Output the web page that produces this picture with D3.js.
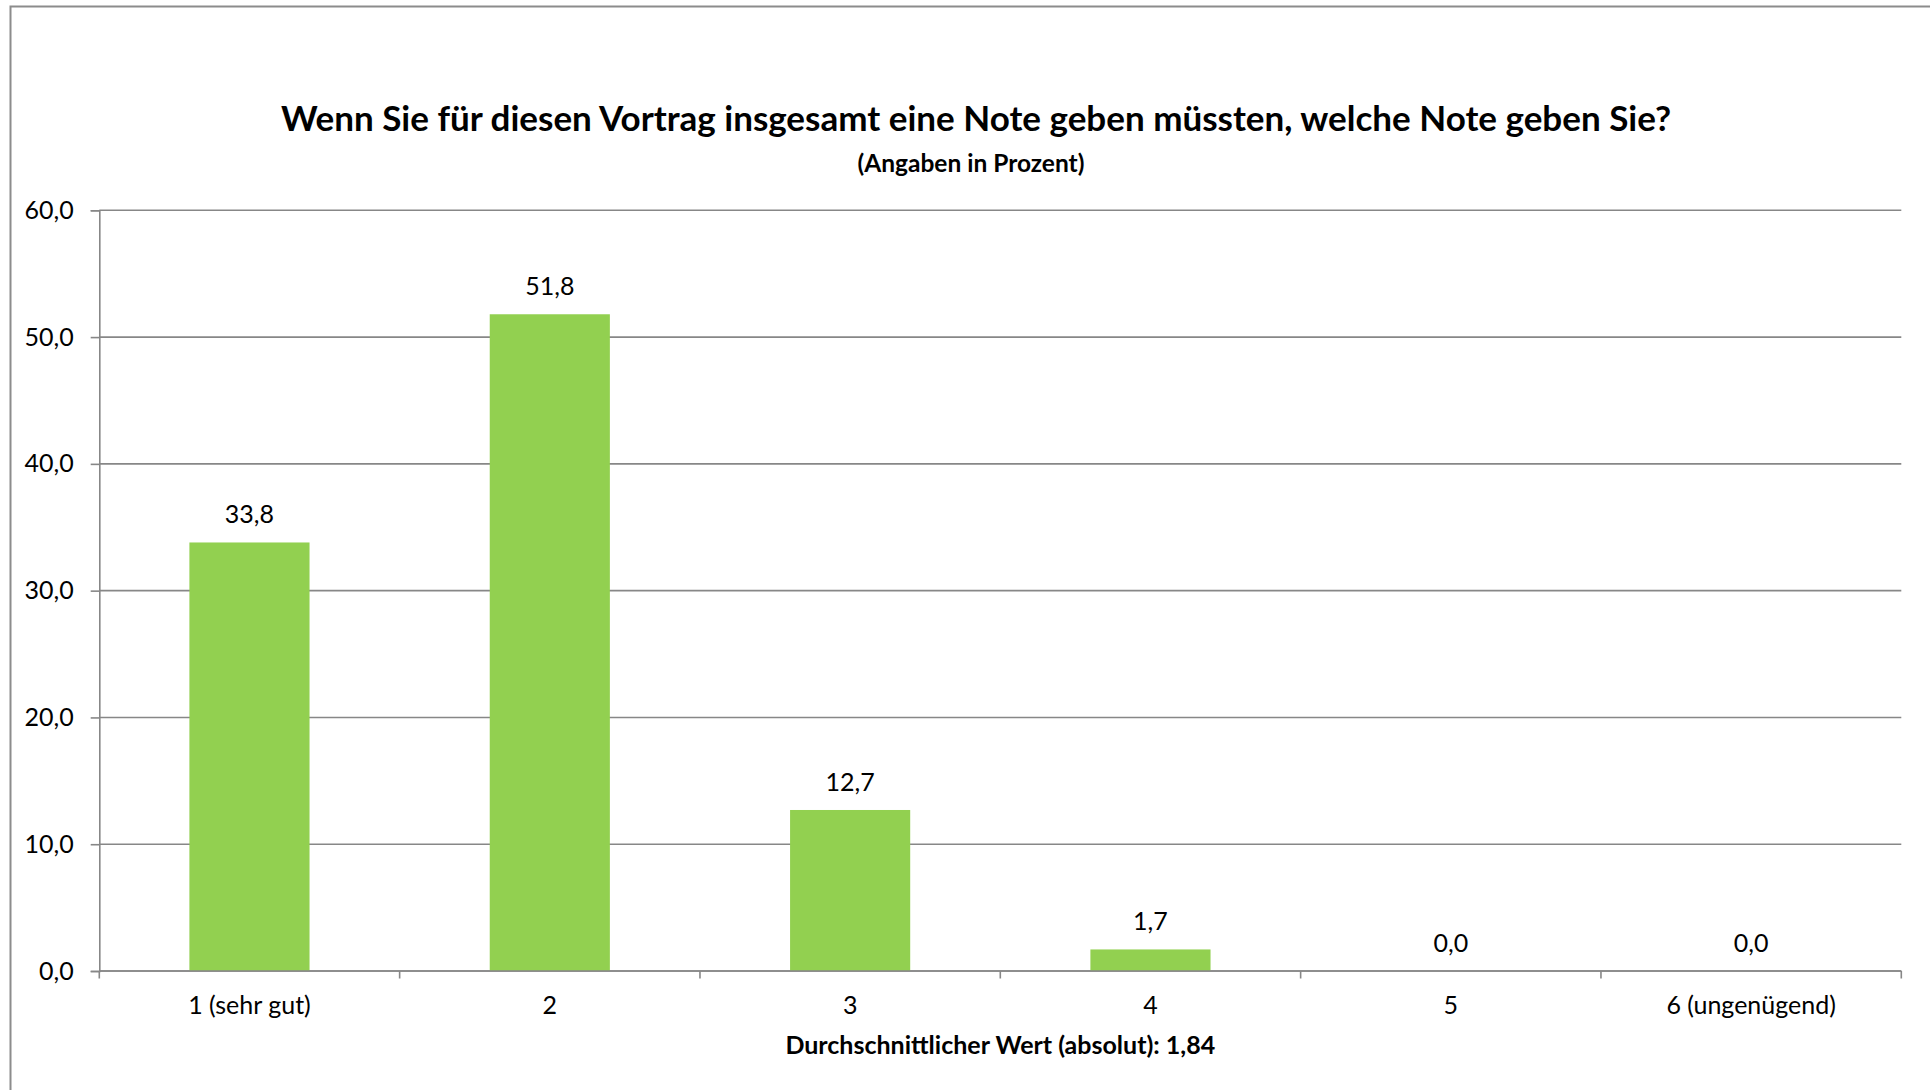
<!DOCTYPE html>
<html>
<head>
<meta charset="utf-8">
<script src="https://cdn.jsdelivr.net/npm/d3@7"></script>
<style>
  body { margin: 0; background: #fff; }
  svg text { font-family: Lato, "Open Sans", sans-serif; fill: #000; }
</style>
</head>
<body>
<div id="chart"></div>
<script>
const width = 1930;
const height = 1090;

// data
const categories = ["1 (sehr gut)", "2", "3", "4", "5", "6 (ungenügend)"];
const values = [33.8, 51.8, 12.7, 1.7, 0.0, 0.0];
const yTicks = [0, 10, 20, 30, 40, 50, 60];
const title = "Wenn Sie für diesen Vortrag insgesamt eine Note geben müssten, welche Note geben Sie?";
const subtitle = "(Angaben in Prozent)";
const footer = "Durchschnittlicher Wert (absolut): 1,84";

const margin = { left: 99.3, right: 1901.3, top: 210.3, bottom: 971 };
const gridColor = "#878787";
const barColor = "#92d050";
const labelSize = "25px";

const svg = d3
	.select("#chart")
	.append("svg")
	.attr("width", width)
	.attr("height", height);

// outer chart frame (right and bottom edges fall outside the picture)
svg.append("rect")
	.attr("x", 10.5)
	.attr("y", 6.5)
	.attr("width", 1960)
	.attr("height", 1120)
	.attr("fill", "none")
	.attr("stroke", "#8c8c8c")
	.attr("stroke-width", 2);

const x = d3
	.scaleBand()
	.domain(categories)
	.range([margin.left, margin.right])
	.paddingInner(0.6)
	.paddingOuter(0.3);

const y = d3
	.scaleLinear()
	.domain([0, 60])
	.range([margin.bottom, margin.top]);

const comma = (v) => d3.format(".1f")(v).replace(".", ",");

// gridlines
svg.append("g")
	.selectAll("line")
	.data(yTicks)
	.enter()
	.append("line")
	.attr("x1", margin.left)
	.attr("x2", margin.right)
	.attr("y1", (d) => y(d))
	.attr("y2", (d) => y(d))
	.attr("stroke", gridColor)
	.attr("stroke-width", 1.6);

// y axis
const yAxis = svg.append("g")
	.attr("transform", `translate(${margin.left},0)`)
	.call(d3.axisLeft(y).tickValues(yTicks).tickSize(8.6).tickPadding(17).tickFormat(comma));
yAxis.select(".domain").attr("stroke", gridColor).attr("stroke-width", 1.6);
yAxis.selectAll(".tick line").attr("stroke", gridColor).attr("stroke-width", 1.6);
yAxis.selectAll("text")
	.style("font-size", labelSize)
	.style("font-family", "Lato, sans-serif")
	.attr("fill", "#000");

// x axis: labels at band centres, ticks between categories
const xAxis = svg.append("g")
	.attr("transform", `translate(0,${margin.bottom})`)
	.call(d3.axisBottom(x).tickSize(0).tickPadding(25));
xAxis.select(".domain").remove();
xAxis.selectAll("text")
	.style("font-size", labelSize)
	.style("font-family", "Lato, sans-serif")
	.attr("fill", "#000");

const bounds = d3.range(categories.length + 1).map((i) => margin.left + i * x.step());
svg.append("g")
	.selectAll("line")
	.data(bounds)
	.enter()
	.append("line")
	.attr("x1", (d) => d)
	.attr("x2", (d) => d)
	.attr("y1", margin.bottom)
	.attr("y2", margin.bottom + 7.5)
	.attr("stroke", gridColor)
	.attr("stroke-width", 1.6);

// bars
svg.append("g")
	.selectAll("rect")
	.data(values)
	.enter()
	.append("rect")
	.attr("x", (d, i) => x(categories[i]))
	.attr("y", (d) => y(d))
	.attr("width", x.bandwidth())
	.attr("height", (d) => y(0) - y(d))
	.attr("fill", barColor);

// baseline drawn over bars
svg.append("line")
	.attr("x1", margin.left)
	.attr("x2", margin.right)
	.attr("y1", margin.bottom)
	.attr("y2", margin.bottom)
	.attr("stroke", gridColor)
	.attr("stroke-width", 1.6);

// value labels
svg.append("g")
	.selectAll("text")
	.data(values)
	.enter()
	.append("text")
	.attr("x", (d, i) => x(categories[i]) + x.bandwidth() / 2)
	.attr("y", (d) => y(d) - 19)
	.attr("text-anchor", "middle")
	.style("font-size", labelSize)
	.text((d) => comma(d));

// titles
svg.append("text")
	.attr("x", 976)
	.attr("y", 130.5)
	.attr("text-anchor", "middle")
	.style("font-size", "35px")
	.style("font-weight", "bold")
	.text(title);

svg.append("text")
	.attr("x", 971)
	.attr("y", 172)
	.attr("text-anchor", "middle")
	.style("font-size", "24.5px")
	.style("font-weight", "bold")
	.text(subtitle);

svg.append("text")
	.attr("x", 1000.3)
	.attr("y", 1054)
	.attr("text-anchor", "middle")
	.style("font-size", "25px")
	.style("font-weight", "bold")
	.text(footer);
</script>
</body>
</html>
